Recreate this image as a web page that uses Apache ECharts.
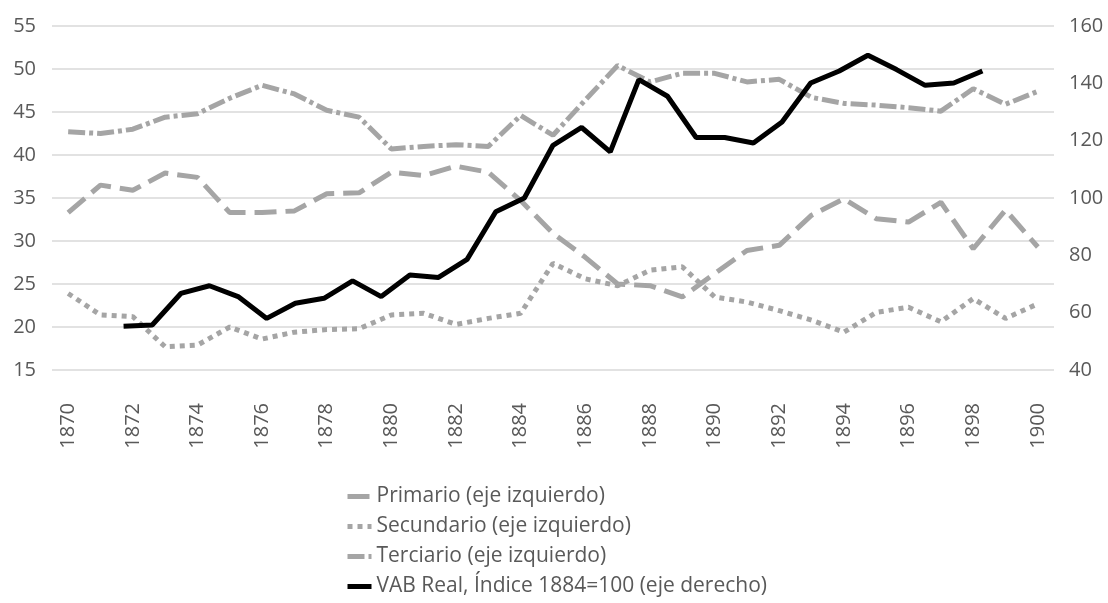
<!DOCTYPE html>
<html>
<head>
<meta charset="utf-8">
<script src="https://cdn.jsdelivr.net/npm/echarts@6/dist/echarts.min.js"></script>
<style>
  html, body { margin: 0; padding: 0; background: #fff; }
  #chart { width: 1108px; height: 603px; }
</style>
</head>
<body>
<div id="chart"></div>
<script>
// años del eje horizontal
var years = [];
for (var y = 1870; y <= 1900; y++) years.push(String(y));

// % del VAB (eje izquierdo)
var primario = [33.3, 36.5, 35.9, 37.9, 37.4, 33.3, 33.3, 33.5, 35.5, 35.6, 38.0, 37.6, 38.7, 38.0, 34.7, 30.9,
  28.1, 25.0, 24.8, 23.5, 26.2, 28.9, 29.5, 33.0, 34.9, 32.6, 32.2, 34.5, 29.1, 33.6, 29.3];
var secundario = [23.9, 21.4, 21.2, 17.7, 17.9, 20.0, 18.6, 19.4, 19.7, 19.8, 21.4, 21.6, 20.3, 21.0, 21.6, 27.4,
  25.6, 24.8, 26.6, 27.0, 23.5, 22.9, 21.9, 20.8, 19.4, 21.7, 22.3, 20.6, 23.3, 21.0, 22.7];
var terciario = [42.7, 42.5, 43.0, 44.4, 44.8, 46.6, 48.1, 47.1, 45.2, 44.4, 40.7, 41.0, 41.2, 41.0, 44.6, 42.3,
  46.4, 50.4, 48.5, 49.5, 49.5, 48.5, 48.8, 46.7, 46.0, 45.8, 45.5, 45.1, 47.7, 45.9, 47.4];

// VAB real, indice 1884=100 (eje derecho) - va sobre un eje horizontal secundario oculto
var vab = [55.3, 55.7, 66.7, 69.4, 65.6, 58.0, 63.3, 65.0, 71.1, 65.6, 73.1, 72.3, 78.6, 95.2, 100, 118.4,
  124.6, 116.1, 141.3, 135.5, 121.1, 121.1, 119.2, 126.5, 140.1, 144.3, 149.8, 144.8, 139.3, 140.1, 144.3];
var vabSlots = 35;   // categorias del eje secundario
var vabOffset = 2;   // primera categoria ocupada

var leftTicks = { min: 15, max: 55, interval: 5 };
var rightTicks = { min: 40, max: 160, interval: 20 };

var names = ['Primario (eje izquierdo)', 'Secundario (eje izquierdo)', 'Terciario (eje izquierdo)',
  'VAB Real, Índice 1884=100 (eje derecho)'];

var vabCats = [];
var vabData = [];
for (var i = 0; i < vabSlots; i++) {
  vabCats.push('s' + i);
  var k = i - vabOffset;
  vabData.push(k >= 0 && k < vab.length ? vab[k] : null);
}

var font = "'Open Sans', sans-serif";
var txt = '#595959';
var gray = '#A5A5A5';

var chart = echarts.init(document.getElementById('chart'));
chart.setOption({
  animation: false,
  grid: { left: 52, right: 54, top: 26, bottom: 233, containLabel: false },
  legend: {
    orient: 'vertical',
    left: 340,
    top: 481,
    itemWidth: 24,
    itemHeight: 12,
    itemGap: 9,
    itemStyle: { opacity: 0 },
    lineStyle: { width: 5 },
    textStyle: { color: txt, fontSize: 21, fontFamily: font },
    data: names
  },
  xAxis: [{
    type: 'category',
    data: years,
    boundaryGap: true,
    axisLine: { show: false },
    axisTick: { show: false },
    axisLabel: { interval: 1, rotate: 90, margin: 33, color: txt, fontSize: 20, fontFamily: font }
  }, {
    type: 'category',
    data: vabCats,
    boundaryGap: true,
    show: false
  }],
  yAxis: [{
    type: 'value',
    min: leftTicks.min, max: leftTicks.max, interval: leftTicks.interval,
    axisLine: { show: false },
    axisTick: { show: false },
    splitLine: { lineStyle: { color: '#D9D9D9', width: 1.5 } },
    axisLabel: { margin: 16, color: txt, fontSize: 20, fontFamily: font }
  }, {
    type: 'value',
    min: rightTicks.min, max: rightTicks.max, interval: rightTicks.interval,
    axisLine: { show: false },
    axisTick: { show: false },
    splitLine: { show: false },
    axisLabel: { margin: 15, color: txt, fontSize: 20, fontFamily: font }
  }],
  series: [{
    name: names[0], type: 'line', data: primario, showSymbol: false, symbol: 'none',
    lineStyle: { color: gray, width: 5, type: [22, 9] }, itemStyle: { color: gray }
  }, {
    name: names[1], type: 'line', data: secundario, showSymbol: false, symbol: 'none',
    lineStyle: { color: gray, width: 5, type: [5, 5] }, itemStyle: { color: gray }
  }, {
    name: names[2], type: 'line', data: terciario, showSymbol: false, symbol: 'none',
    lineStyle: { color: gray, width: 5, type: [17, 4, 4, 4] }, itemStyle: { color: gray }
  }, {
    name: names[3], type: 'line', data: vabData, xAxisIndex: 1, yAxisIndex: 1,
    showSymbol: false, symbol: 'none', connectNulls: false,
    lineStyle: { color: '#000', width: 5 }, itemStyle: { color: '#000' }
  }]
});
</script>
</body>
</html>
